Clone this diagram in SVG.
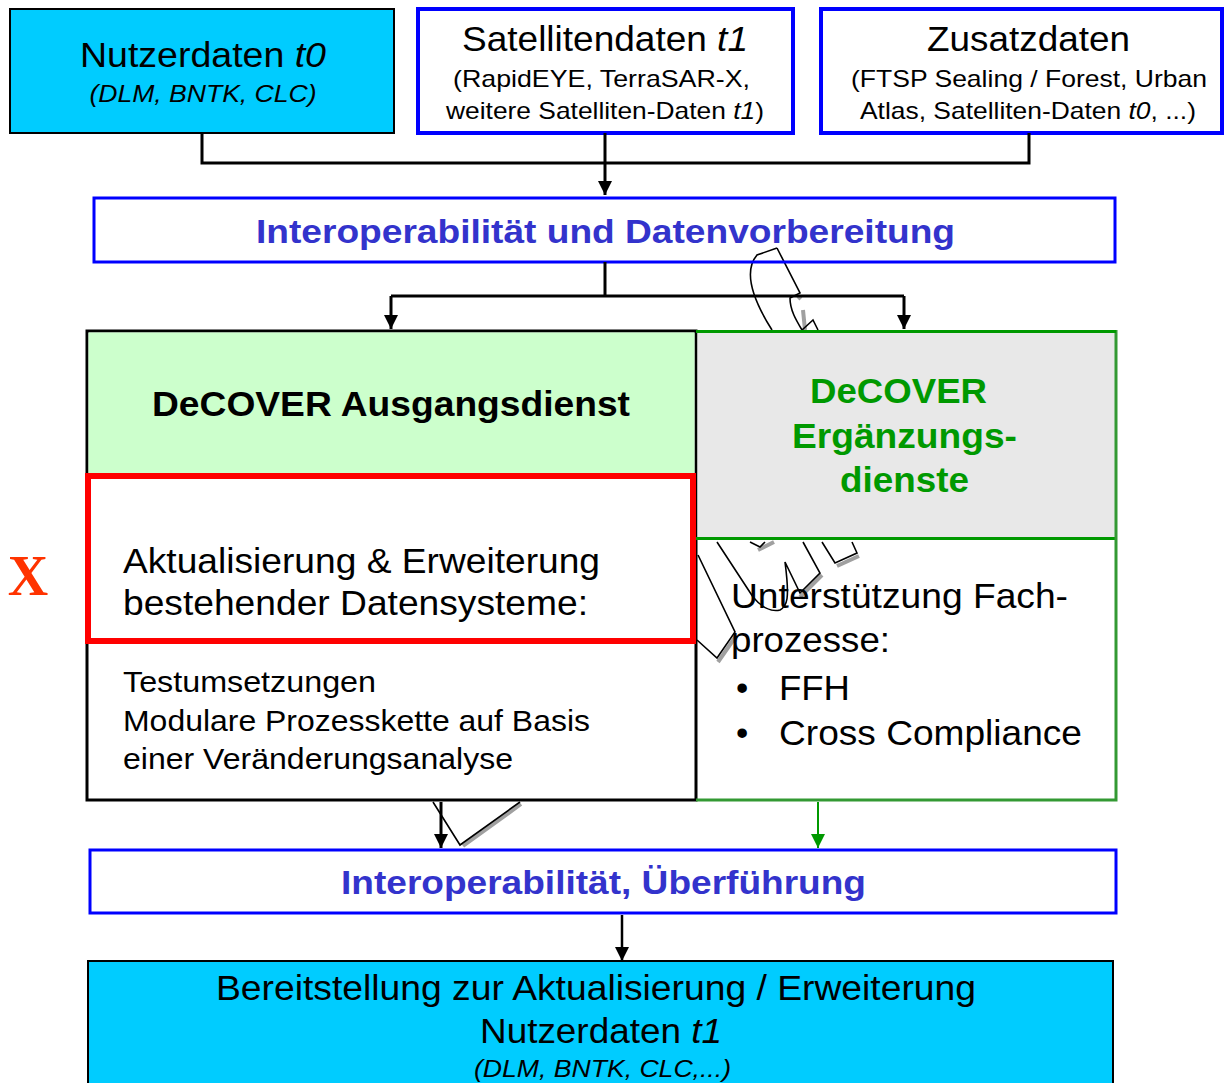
<svg xmlns="http://www.w3.org/2000/svg" width="1224" height="1083" viewBox="0 0 1224 1083">
<defs>
<style>
text{font-family:"Liberation Sans",Arial,sans-serif;fill:#000}
.big{font-size:35px}
.mid{font-size:24px}
.sm{font-size:29px}
.it{font-style:italic}
.hb{font-weight:bold;fill:#3333CC;font-size:34px}
.c{text-anchor:middle}
.wa{fill:none;stroke:#000;stroke-width:1.6}
.sh{fill:none;stroke:#A0A0A0;stroke-width:4}
.con{fill:none;stroke:#000;stroke-width:3}
</style>
<marker id="ahk" viewBox="0 0 10 10" refX="10" refY="5" markerWidth="16" markerHeight="14" orient="auto" markerUnits="userSpaceOnUse">
<path d="M0,0 L10,5 L0,10 z" fill="#000"/>
</marker>
<marker id="ahg" viewBox="0 0 10 10" refX="10" refY="5" markerWidth="16" markerHeight="14" orient="auto" markerUnits="userSpaceOnUse">
<path d="M0,0 L10,5 L0,10 z" fill="#009900"/>
</marker>
</defs>
<rect width="1224" height="1083" fill="#fff"/>

<g id="wordart">
<path class="sh" d="M801,296 l-3,3 M805,330 l-2,-20 M758,550 l16,-8 M800,597 l22,-22 M837,566 l22,-10 M736,636 l-18,26 M463,846 l58,-42"/>
<path class="wa" d="M777,248 L757,255 C746,268 748,292 772,330 M777,248 L800,293 L790,298 C790,310 796,320 802,330 L813,320 L818,330"/>
<path class="wa" d="M698,555 L735,632 L717,658 L697,640"/>
<path class="wa" d="M717,542 L753,597 C762,608 772,612 780,610 C787,606 790,600 785,562 L800,593 L820,573 L803,542"/>
<path class="wa" d="M750,542 L760,547 L765,542 M822,542 L835,563 L857,553 L852,542"/>
<path class="wa" d="M433,802 L460,845 L520,802"/>
</g>

<g id="nutzerdaten-t0">
<rect x="10" y="9" width="384" height="124" fill="#00CCFF" stroke="#000" stroke-width="2"/>
<text class="big c" x="203" y="67" textLength="246" lengthAdjust="spacingAndGlyphs">Nutzerdaten <tspan class="it">t0</tspan></text>
<text class="mid c it" x="203" y="102" textLength="227" lengthAdjust="spacingAndGlyphs">(DLM, BNTK, CLC)</text>
</g>

<g id="satellitendaten">
<rect x="418" y="9" width="375" height="124" fill="#fff" stroke="#0000FF" stroke-width="4"/>
<text class="big c" x="605" y="51" textLength="286" lengthAdjust="spacingAndGlyphs">Satellitendaten <tspan class="it">t1</tspan></text>
<text class="mid c" x="601.5" y="87" textLength="297" lengthAdjust="spacingAndGlyphs">(RapidEYE, TerraSAR-X,</text>
<text class="mid c" x="605" y="119" textLength="318" lengthAdjust="spacingAndGlyphs">weitere Satelliten-Daten <tspan class="it">t1</tspan>)</text>
</g>

<g id="zusatzdaten">
<rect x="821" y="9" width="401" height="124" fill="#fff" stroke="#0000FF" stroke-width="4"/>
<text class="big c" x="1028.5" y="51" textLength="203" lengthAdjust="spacingAndGlyphs">Zusatzdaten</text>
<text class="mid c" x="1029" y="87" textLength="356" lengthAdjust="spacingAndGlyphs">(FTSP Sealing / Forest, Urban</text>
<text class="mid c" x="1028" y="119" textLength="336" lengthAdjust="spacingAndGlyphs">Atlas, Satelliten-Daten <tspan class="it">t0</tspan>, ...)</text>
</g>

<g id="interop-vorbereitung">
<rect x="94" y="198" width="1021" height="64" fill="none" stroke="#0000FF" stroke-width="3"/>
<text class="hb c" x="605.5" y="243" textLength="699" lengthAdjust="spacingAndGlyphs">Interoperabilität und Datenvorbereitung</text>
</g>

<g id="ausgangsdienst">
<rect x="87" y="331" width="609" height="469" fill="#fff" stroke="#000" stroke-width="3"/>
<rect x="88.5" y="332.5" width="606" height="141" fill="#CCFFCC"/>
<text class="big c" x="391" y="416" style="font-weight:bold" textLength="478" lengthAdjust="spacingAndGlyphs">DeCOVER Ausgangsdienst</text>
<rect x="88" y="476" width="605" height="165" fill="#fff" stroke="#FF0000" stroke-width="6"/>
<text class="big" x="123" y="573" textLength="477" lengthAdjust="spacingAndGlyphs">Aktualisierung &amp; Erweiterung</text>
<text class="big" x="123" y="615" textLength="465" lengthAdjust="spacingAndGlyphs">bestehender Datensysteme:</text>
<text class="sm" x="123" y="692" textLength="253" lengthAdjust="spacingAndGlyphs">Testumsetzungen</text>
<text class="sm" x="123" y="731" textLength="467" lengthAdjust="spacingAndGlyphs">Modulare Prozesskette auf Basis</text>
<text class="sm" x="123" y="769" textLength="390" lengthAdjust="spacingAndGlyphs">einer Veränderungsanalyse</text>
</g>

<g id="ergaenzungsdienste">
<rect x="697.5" y="332.5" width="418" height="206" fill="#E8E8E8"/>
<path d="M696,538.5 H1116" stroke="#009900" stroke-width="3"/>
<path d="M696,331.5 H1116 V800 H696" fill="none" stroke="#339933" stroke-width="3"/>
<path d="M696,331.5 H1116" stroke="#009900" stroke-width="3"/>
<text class="big c" x="898.5" y="403" style="font-weight:bold;fill:#009900" textLength="177" lengthAdjust="spacingAndGlyphs">DeCOVER</text>
<text class="big c" x="904.5" y="448" style="font-weight:bold;fill:#009900" textLength="225" lengthAdjust="spacingAndGlyphs">Ergänzungs-</text>
<text class="big c" x="904.5" y="492" style="font-weight:bold;fill:#009900" textLength="129" lengthAdjust="spacingAndGlyphs">dienste</text>
<text class="big" x="731" y="608" textLength="337" lengthAdjust="spacingAndGlyphs">Unterstützung Fach-</text>
<text class="big" x="731" y="652" textLength="159" lengthAdjust="spacingAndGlyphs">prozesse:</text>
<text class="big" x="736" y="700">•</text>
<text class="big" x="779" y="700" textLength="71" lengthAdjust="spacingAndGlyphs">FFH</text>
<text class="big" x="736" y="745">•</text>
<text class="big" x="779" y="745" textLength="303" lengthAdjust="spacingAndGlyphs">Cross Compliance</text>
</g>

<g id="interop-ueberfuehrung">
<rect x="90" y="850" width="1026" height="63" fill="#fff" stroke="#0000FF" stroke-width="3"/>
<text class="hb c" x="603.5" y="894" textLength="525" lengthAdjust="spacingAndGlyphs">Interoperabilität, Überführung</text>
</g>

<g id="bereitstellung">
<rect x="88" y="961" width="1025" height="130" fill="#00CCFF" stroke="#000" stroke-width="2"/>
<text class="big c" x="596" y="1000" textLength="760" lengthAdjust="spacingAndGlyphs">Bereitstellung zur Aktualisierung / Erweiterung</text>
<text class="big c" x="601" y="1043" textLength="242" lengthAdjust="spacingAndGlyphs">Nutzerdaten <tspan class="it">t1</tspan></text>
<text class="mid c it" x="602.5" y="1077" textLength="257" lengthAdjust="spacingAndGlyphs">(DLM, BNTK, CLC,...)</text>
</g>

<g id="x-mark">
<text x="28" y="595" style="font-family:'Liberation Serif','Times New Roman',serif;font-weight:bold;font-size:56px;fill:#FF3300;text-anchor:middle">X</text>
</g>

<g id="connectors">
<path class="con" d="M202,133 V163 H1029 V133"/>
<path class="con" d="M605,133 V195" marker-end="url(#ahk)"/>
<path class="con" d="M605,262 V296"/>
<path class="con" d="M391,296 H904"/>
<path class="con" d="M391,296 V329" marker-end="url(#ahk)"/>
<path class="con" d="M904,296 V329" marker-end="url(#ahk)"/>
<path class="con" d="M441,802 V848" marker-end="url(#ahk)"/>
<path d="M818,802 V848" fill="none" stroke="#009900" stroke-width="2" marker-end="url(#ahg)"/>
<path d="M622,915 V961" fill="none" stroke="#000" stroke-width="2.5" marker-end="url(#ahk)"/>
</g>
</svg>
